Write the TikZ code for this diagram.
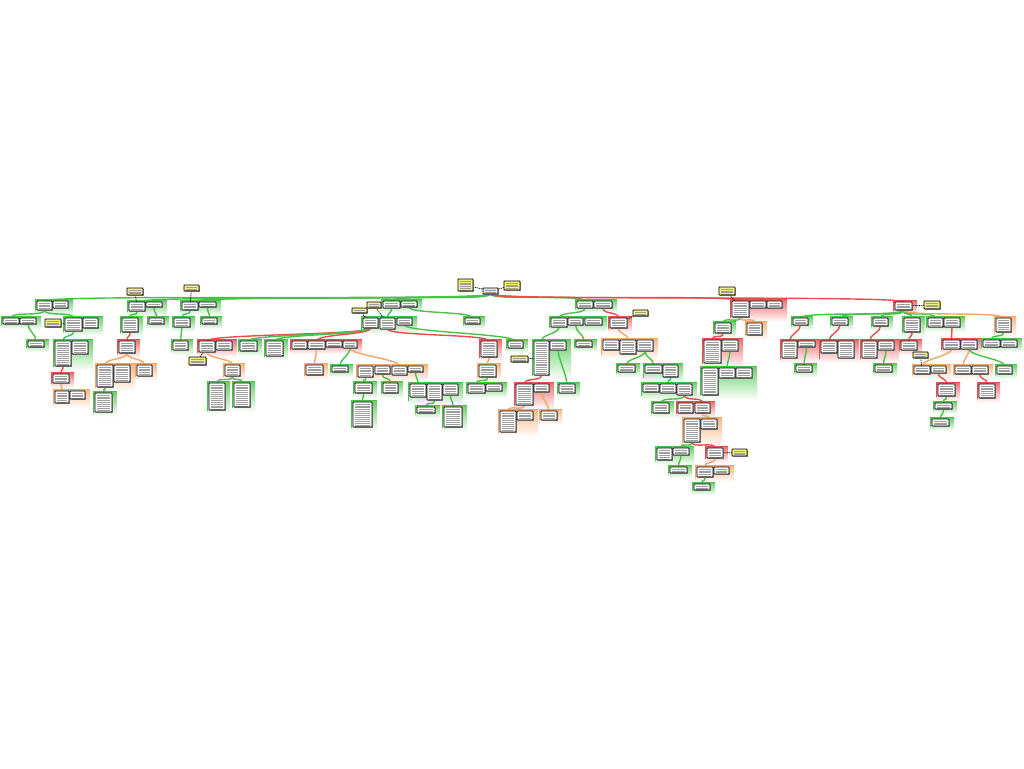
\documentclass[tikz,border=0pt]{standalone}
\usetikzlibrary{calc}
\definecolor{gC}{RGB}{70,195,70}
\definecolor{rC}{RGB}{235,75,75}
\definecolor{oC}{RGB}{245,165,100}
\definecolor{nY}{RGB}{245,240,130}
\pgfdeclarelayer{bg}\pgfdeclarelayer{mid}\pgfsetlayers{bg,mid,main}
\tikzset{
 greek/.style={path picture={\foreach \k in {1,...,20}{\draw[black!38,line width=0.45pt]
   ([xshift=1.6pt,yshift=-\k*1.9pt]path picture bounding box.north west) --
   ([xshift=-2.2pt,yshift=-\k*1.9pt]path picture bounding box.north east);}}},
 box/.style={draw=black, line width=0.85pt, fill=white, rounded corners=0.5pt, inner sep=0pt, outer sep=0pt, anchor=north west, greek},
 notebox/.style={box, fill=nY},
 cn/.style={line width=1.4pt, line cap=round},
 nc/.style={black, line width=0.7pt, dash pattern=on 1.3pt off 0.8pt},
}
\newcommand\bx[5]{\fill[black!45] (#2+0.9,#3+0.9) rectangle (#4+0.9,#5+0.9);
 \node[box, minimum width={(#4-(#2))*1pt}, minimum height={(#5-(#3))*1pt}] (#1) at (#2,#3) {};}
\newcommand\nt[5]{\fill[black!45] (#2+0.9,#3+0.9) rectangle (#4+0.9,#5+0.9);
 \node[notebox, minimum width={(#4-(#2))*1pt}, minimum height={(#5-(#3))*1pt}] (#1) at (#2,#3) {};}
\newcommand\grp[5]{\shade[top color=#1!80, bottom color=white] (#2-1.5,#3-1.5) rectangle (#4+5,#5+5);
 \draw[#1, line width=1.1pt] (#2-1.5,#5+1) -- (#2-1.5,#3-1.5) -- (#4+5,#3-1.5);}
\newcommand\cn[3]{\draw[cn,#1] (#2.south) .. controls +(0,7) and +(0,-7) .. (#3.north);}
\newcommand\nl[2]{\draw[nc] (#1) -- (#2);}
\begin{document}
\begin{tikzpicture}[x=1pt,y=-1pt]
\useasboundingbox (0,0) rectangle (1024,768);
\begin{pgfonlayer}{bg}
% level 1
\grp{gC}{37}{301}{68}{310}
\grp{gC}{129}{302}{162}{311}
\grp{gC}{182}{302}{216}{310}
\grp{gC}{383}{301}{417}{308}
\grp{gC}{577}{301}{612}{308}
\grp{rC}{732}{301}{782}{317}
\grp{rC}{895}{302}{912}{310}
% left
\grp{gC}{3}{318}{36}{324}
\grp{gC}{65}{318}{98}{331}
\grp{gC}{28}{341}{44}{347}
\grp{gC}{55}{341}{88}{366}
\grp{rC}{53}{374}{69}{383}
\grp{oC}{55}{391}{85}{403}
\grp{gC}{122}{318}{138}{332}
\grp{gC}{149}{318}{164}{324}
\grp{rC}{119}{341}{135}{353}
\grp{oC}{97}{365}{130}{387}
\grp{oC}{137}{365}{152}{376}
\grp{gC}{95}{393}{112}{412}
\grp{gC}{174}{318}{190}{327}
\grp{gC}{202}{318}{217}{324}
\grp{gC}{173}{341}{188}{350}
% middle
\grp{gC}{363}{318}{412}{329}
\grp{gC}{465}{318}{480}{324}
\grp{rC}{199}{341}{232}{352}
\grp{gC}{240}{341}{257}{351}
\grp{gC}{266}{341}{283}{356}
\grp{rC}{292}{341}{357}{349}
\grp{rC}{481}{341}{497}{357}
\grp{gC}{508}{341}{523}{348}
\grp{oC}{225}{365}{240}{376}
\grp{gC}{209}{383}{225}{410}
\grp{gC}{234}{383}{250}{407}
\grp{oC}{306}{365}{323}{375}
\grp{gC}{332}{366}{348}{372}
\grp{oC}{358}{366}{423}{377}
\grp{gC}{355}{383}{372}{393}
\grp{gC}{383}{383}{398}{393}
\grp{gC}{410}{384}{458}{400}
\grp{gC}{353}{402}{372}{427}
\grp{gC}{417}{407}{435}{413}
\grp{gC}{444}{407}{462}{427}
\grp{oC}{479}{365}{496}{377}
\grp{gC}{468}{384}{502}{393}
% G subtree
\grp{gC}{551}{318}{602}{327}
\grp{rC}{610}{318}{627}{328}
\grp{gC}{534}{341}{566}{375}
\grp{gC}{576}{341}{592}{347}
\grp{gC}{559}{384}{575}{393}
\grp{rC}{516}{384}{549}{405}
\grp{oC}{500}{411}{533}{432}
\grp{oC}{541}{411}{557}{420}
\grp{oC}{603}{340}{653}{354}
\grp{gC}{618}{365}{635}{372}
\grp{gC}{645}{365}{678}{377}
\grp{gC}{643}{384}{692}{395}
\grp{gC}{653}{403}{669}{413}
\grp{rC}{678}{403}{710}{413}
\grp{oC}{684}{419}{717}{442}
\grp{gC}{657}{448}{689}{460}
\grp{rC}{707}{448}{723}{458}
\grp{gC}{670}{467}{687}{473}
\grp{oC}{697}{467}{729}{477}
\grp{gC}{694}{484}{710}{490}
% H subtree
\grp{gC}{715}{323}{731}{333}
\grp{oC}{747}{323}{762}{335}
\grp{rC}{704}{340}{738}{363}
\grp{gC}{702}{368}{752}{395}
% I subtree
\grp{gC}{793}{318}{808}{325}
\grp{gC}{832}{318}{848}{325}
\grp{gC}{873}{318}{888}{326}
\grp{gC}{904}{318}{920}{332}
\grp{gC}{928}{318}{960}{327}
\grp{oC}{996}{318}{1011}{332}
\grp{rC}{782}{341}{815}{358}
\grp{gC}{796}{365}{812}{372}
\grp{rC}{821}{341}{854}{358}
\grp{rC}{862}{341}{894}{358}
\grp{gC}{875}{365}{892}{372}
\grp{rC}{901}{341}{917}{350}
\grp{rC}{943}{340}{977}{349}
\grp{gC}{983}{340}{1017}{347}
\grp{oC}{914}{366}{946}{374}
\grp{oC}{955}{366}{988}{374}
\grp{gC}{997}{366}{1012}{374}
\grp{rC}{938}{384}{955}{396}
\grp{gC}{935}{403}{952}{409}
\grp{gC}{932}{419}{949}{426}
\grp{rC}{979}{384}{995}{398}
\end{pgfonlayer}
% ---------- boxes ----------
\fill[black!45] (483.9,288.9) rectangle (498.9,294.9);
\node[box, fill=black!10, minimum width=15pt, minimum height=6pt] (r) at (483,288) {};
\nt{n1}{458}{279}{473}{291}
\nt{n2}{504}{281}{520}{290}
\bx{a1}{37}{301}{52}{310}\bx{a2}{53}{301}{68}{308}
\bx{b1}{129}{302}{145}{311}\bx{b2}{146}{302}{162}{307}
\nt{nB}{127}{288}{143}{295}
\bx{c1}{182}{302}{198}{310}\bx{c2}{199}{302}{216}{307}
\nt{nC}{184}{285}{199}{291}
\bx{d1}{383}{301}{400}{308}\bx{d2}{401}{301}{417}{307}
\nt{nD1}{367}{302}{381}{308}
\nt{nD2}{352}{308}{367}{313}
\bx{g1}{577}{301}{593}{308}\bx{g2}{594}{301}{612}{308}
\bx{h1}{732}{301}{749}{317}\bx{h2}{750}{301}{766}{308}\bx{h3}{767}{301}{782}{308}
\nt{nH}{719}{287}{735}{295}
\bx{i1}{895}{302}{912}{310}
\nt{nI}{924}{301}{940}{309}
% left subtree
\bx{aa1}{3}{318}{19}{324}\bx{aa2}{20}{318}{36}{324}
\bx{ab1}{65}{318}{82}{331}\bx{ab2}{83}{318}{98}{328}
\nt{nAB}{45}{319}{61}{327}
\bx{aaa1}{28}{341}{44}{347}
\bx{aba1}{55}{341}{71}{366}\bx{aba2}{72}{341}{88}{354}
\bx{abaa1}{53}{374}{69}{383}
\bx{abaaa1}{55}{391}{69}{403}\bx{abaaa2}{70}{391}{85}{399}
\bx{ba1}{122}{318}{138}{332}
\bx{bb1}{149}{318}{164}{324}
\bx{baa1}{119}{341}{135}{353}
\bx{baaa1}{97}{365}{113}{387}\bx{baaa2}{114}{365}{130}{382}
\bx{baab1}{137}{365}{152}{376}
\bx{baaaa1}{95}{393}{112}{412}
\bx{ca1}{174}{318}{190}{327}
\bx{cb1}{202}{318}{217}{324}
\bx{caa1}{173}{341}{188}{350}
% middle subtree
\bx{e1}{363}{318}{378}{328}\bx{e2}{380}{318}{395}{329}\bx{e3}{397}{318}{412}{325}
\bx{f1}{465}{318}{480}{324}
\bx{ea1}{199}{341}{215}{352}\bx{ea2}{216}{341}{232}{350}
\nt{nEA}{189}{357}{206}{365}
\bx{eb1}{240}{341}{257}{351}
\bx{ec1}{266}{341}{283}{356}
\bx{ed1}{292}{341}{307}{349}\bx{ed2}{308}{341}{325}{349}\bx{ed3}{326}{341}{342}{347}\bx{ed4}{343}{341}{357}{348}
\bx{ee1}{481}{341}{497}{357}
\bx{ef1}{508}{341}{523}{348}
\bx{eaa1}{225}{365}{240}{376}
\bx{eaaa1}{209}{383}{225}{410}
\bx{eaab1}{234}{383}{250}{407}
\bx{eda1}{306}{365}{323}{375}
\bx{edb1}{332}{366}{348}{372}
\bx{edc1}{358}{366}{373}{377}\bx{edc2}{375}{366}{390}{374}\bx{edc3}{392}{366}{407}{375}\bx{edc4}{408}{366}{423}{372}
\bx{edca1}{355}{383}{372}{393}
\bx{edcb1}{383}{383}{398}{393}
\bx{edcc1}{410}{384}{426}{397}\bx{edcc2}{427}{384}{442}{400}\bx{edcc3}{443}{384}{458}{395}
\bx{edcaa1}{353}{402}{372}{427}
\bx{edcca1}{417}{407}{435}{413}
\bx{edccb1}{444}{407}{462}{427}
\bx{eea1}{479}{365}{496}{377}
\bx{eeaa1}{468}{384}{485}{393}\bx{eeaa2}{486}{384}{502}{391}
% G subtree
\bx{ga1}{551}{318}{567}{327}\bx{ga2}{568}{318}{583}{325}\bx{ga3}{585}{318}{602}{325}
\bx{gb1}{610}{318}{627}{328}
\nt{nGB}{633}{310}{648}{316}
\bx{gaa1}{534}{341}{549}{375}\bx{gaa2}{550}{341}{566}{350}
\nt{nGAA}{511}{356}{528}{362}
\bx{gab1}{576}{341}{592}{347}
\bx{gaab1}{559}{384}{575}{393}
\bx{gaaa1}{516}{384}{533}{405}\bx{gaaa2}{534}{384}{549}{392}
\bx{gaaaa1}{500}{411}{516}{432}\bx{gaaaa2}{517}{411}{533}{420}
\bx{gaaab1}{541}{411}{557}{420}
\bx{gba1}{603}{340}{619}{350}\bx{gba2}{620}{340}{636}{354}\bx{gba3}{637}{340}{653}{351}
\bx{gbaa1}{618}{365}{635}{372}
\bx{gbab1}{645}{365}{662}{373}\bx{gbab2}{663}{365}{678}{377}
\bx{gbaba1}{643}{384}{659}{392}\bx{gbaba2}{660}{384}{676}{393}\bx{gbaba3}{677}{384}{692}{395}
\bx{x1}{653}{403}{669}{413}
\bx{y1}{678}{403}{693}{413}\bx{y2}{695}{403}{710}{413}
\bx{z1}{684}{419}{700}{442}\bx{z2}{701}{419}{717}{429}
\bx{w1}{657}{448}{672}{460}\bx{w2}{673}{448}{689}{455}
\bx{v1}{707}{448}{723}{458}
\nt{nv}{732}{449}{747}{456}
\bx{u1}{670}{467}{687}{473}
\bx{t1}{697}{467}{713}{477}\bx{t2}{714}{467}{729}{474}
\bx{s1}{694}{484}{710}{490}
% H subtree
\bx{ha1}{715}{323}{731}{333}
\bx{hb1}{747}{323}{762}{335}
\bx{haa1}{704}{340}{721}{363}\bx{haa2}{722}{340}{738}{351}
\bx{haaa1}{702}{368}{718}{395}\bx{haaa2}{719}{368}{735}{378}\bx{haaa3}{736}{368}{752}{378}
% I subtree
\bx{ia1}{793}{318}{808}{325}
\bx{ib1}{832}{318}{848}{325}
\bx{ic1}{873}{318}{888}{326}
\bx{id1}{904}{318}{920}{332}
\bx{ie1}{928}{318}{943}{327}\bx{ie2}{944}{318}{960}{327}
\bx{if1}{996}{318}{1011}{332}
\bx{iaa1}{782}{341}{797}{358}\bx{iaa2}{798}{341}{815}{347}
\bx{iaaa1}{796}{365}{812}{372}
\bx{iba1}{821}{341}{837}{353}\bx{iba2}{838}{341}{854}{358}
\bx{ica1}{862}{341}{877}{358}\bx{ica2}{878}{341}{894}{350}
\bx{icaa1}{875}{365}{892}{372}
\bx{ida1}{901}{341}{917}{350}
\bx{iea1}{943}{340}{960}{349}\bx{iea2}{961}{340}{977}{349}
\bx{ifa1}{983}{340}{1000}{347}\bx{ifa2}{1001}{340}{1017}{347}
\bx{ieaa1}{914}{366}{930}{374}\bx{ieaa2}{931}{366}{946}{373}
\nt{nIE}{913}{352}{928}{358}
\bx{ieab1}{955}{366}{971}{374}\bx{ieab2}{972}{366}{988}{374}
\bx{ieac1}{997}{366}{1012}{374}
\bx{q1}{938}{384}{955}{396}
\bx{q2}{979}{384}{995}{398}
\bx{p1}{935}{403}{952}{409}
\bx{p2}{932}{419}{949}{426}
% ---------- connectors ----------
\begin{pgfonlayer}{mid}
\cn{gC}{r}{a1}\cn{gC}{r}{b1}\cn{gC}{r}{c1}\cn{gC}{r}{d1}\cn{gC}{r}{g1}
\cn{rC}{r}{h1}\cn{rC}{r}{i1}
\cn{gC}{a1}{aa1}\cn{gC}{a1}{ab1}\cn{gC}{aa2}{aaa1}\cn{gC}{ab1}{aba1}
\cn{rC}{aba1}{abaa1}\cn{oC}{abaa1}{abaaa1}
\cn{gC}{b1}{ba1}\cn{gC}{b2}{bb1}\cn{rC}{ba1}{baa1}
\cn{oC}{baa1}{baaa1}\cn{oC}{baa1}{baab1}\cn{gC}{baaa1}{baaaa1}
\cn{gC}{c1}{ca1}\cn{gC}{c2}{cb1}\cn{gC}{ca1}{caa1}
\cn{gC}{d1}{e2}\cn{gC}{d2}{f1}
\cn{rC}{e1}{ea1}\cn{gC}{e1}{eb1}\cn{gC}{e1}{ec1}\cn{rC}{e1}{ed2}
\cn{rC}{e2}{ee1}\cn{gC}{e3}{ef1}
\cn{oC}{ea1}{eaa1}\cn{gC}{eaa1}{eaaa1}\cn{gC}{eaa1}{eaab1}
\cn{oC}{ed2}{eda1}\cn{gC}{ed4}{edb1}\cn{oC}{ed4}{edc3}
\cn{gC}{edc1}{edca1}\cn{gC}{edc2}{edcb1}\cn{gC}{edc4}{edcc1}
\cn{gC}{edca1}{edcaa1}\cn{gC}{edcc2}{edcca1}\cn{gC}{edcc3}{edccb1}
\cn{oC}{ee1}{eea1}\cn{gC}{eea1}{eeaa1}
\cn{gC}{g1}{ga1}\cn{rC}{g2}{gb1}
\cn{gC}{ga1}{gaa1}\cn{gC}{ga2}{gab1}\cn{gC}{gaa2}{gaab1}
\cn{rC}{gaa1}{gaaa1}\cn{oC}{gaaa1}{gaaaa1}\cn{oC}{gaaa2}{gaaab1}
\cn{oC}{gb1}{gba2}\cn{gC}{gba3}{gbaa1}\cn{gC}{gba3}{gbab1}
\cn{gC}{gbab2}{gbaba2}\cn{gC}{gbaba3}{x1}\cn{rC}{gbaba3}{y2}
\cn{oC}{y2}{z2}\cn{gC}{z1}{w2}\cn{rC}{z1}{v1}
\cn{gC}{w2}{u1}\cn{oC}{v1}{t1}\cn{gC}{t1}{s1}
\cn{gC}{h1}{ha1}\cn{oC}{h1}{hb1}\cn{rC}{ha1}{haa1}\cn{gC}{haa2}{haaa2}
\cn{gC}{i1}{ia1}\cn{gC}{i1}{ib1}\cn{gC}{i1}{ic1}\cn{gC}{i1}{id1}\cn{gC}{i1}{ie1}\cn{oC}{i1}{if1}
\cn{rC}{ia1}{iaa1}\cn{gC}{iaa2}{iaaa1}\cn{rC}{ib1}{iba1}\cn{rC}{ic1}{ica1}\cn{gC}{ica2}{icaa1}
\cn{rC}{id1}{ida1}\cn{rC}{ie2}{iea1}\cn{gC}{if1}{ifa1}
\cn{oC}{iea1}{ieaa1}\cn{oC}{iea2}{ieab1}\cn{gC}{iea2}{ieac1}
\cn{rC}{ieaa2}{q1}\cn{rC}{ieab2}{q2}\cn{gC}{q1}{p1}\cn{gC}{p1}{p2}
\nl{n1}{r}\nl{n2}{r}\nl{nB}{b1}\nl{nC}{c1}\nl{nD1}{e2}\nl{nD2}{e1}
\nl{nH}{h1}\nl{nI}{i1}\nl{nAB}{ab1}\nl{nEA}{ea1}\nl{nGB}{gb1}\nl{nGAA}{gaa1}
\nl{nv}{v1}\nl{nIE}{ieaa1}
\end{pgfonlayer}
\end{tikzpicture}
\end{document}
